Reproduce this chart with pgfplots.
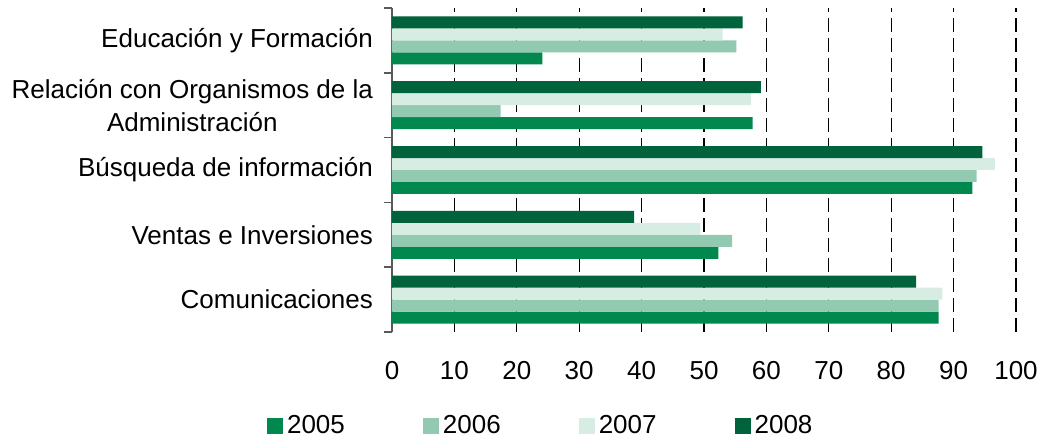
\documentclass[border=0pt]{standalone}
\usepackage{fontspec}
\setmainfont{Liberation Sans}
\usepackage{pgfplots}
\pgfplotsset{compat=1.18}
\definecolor{g05}{RGB}{0,136,78}
\definecolor{g06}{RGB}{146,202,177}
\definecolor{g07}{RGB}{215,236,227}
\definecolor{g08}{RGB}{0,99,59}
\begin{document}
\begin{tikzpicture}
\begin{axis}[
  scale only axis, width=312pt, height=162pt,
  xbar=0pt, bar width=0.185,
  xmin=0, xmax=100, ymin=-0.5, ymax=4.5,
  axis lines*=left,
  x axis line style={draw=none},
  y axis line style={draw=black!65, line width=0.8pt, -},
  xtick={0,10,...,100},
  xtick style={draw=none},
  xmajorgrids,
  grid style={black, line width=0.6pt, dash pattern=on 7pt off 3pt},
  ytick={-0.5,0.5,...,4.5}, yticklabels={},
  ytick style={draw=black!65, line width=0.8pt},
  tick align=outside, major tick length=4pt,
  extra y ticks={0,1,2,3,4},
  extra y tick labels={Comunicaciones, Ventas e Inversiones, B\'usqueda de informaci\'on, {Relaci\'on con Organismos de la\\Administraci\'on}, Educaci\'on y Formaci\'on},
  extra y tick style={ytick style={draw=none}, major tick length=0pt},
  /pgf/number format/assume math mode=true,
  tick label style={font=\fontsize{13}{16.5}\selectfont},
  yticklabel style={align=center, xshift=-6pt},
  xticklabel style={yshift=-7pt},
  legend columns=4,
  legend style={at={(0.24,-0.29)}, anchor=center, draw=none,
    font=\fontsize{13}{14}\selectfont,
    /tikz/every even column/.append style={column sep=37pt}},
  legend image code/.code={\fill[#1, draw=none] (0pt,-4pt) rectangle (8pt,4pt);},
]
\addplot[fill=g05, draw=none] coordinates {(87.6,0) (52.3,1) (93.0,2) (57.8,3) (24.1,4)};
\addplot[fill=g06, draw=none] coordinates {(87.6,0) (54.5,1) (93.7,2) (17.4,3) (55.2,4)};
\addplot[fill=g07, draw=none] coordinates {(88.2,0) (49.4,1) (96.6,2) (57.5,3) (53.0,4)};
\addplot[fill=g08, draw=none] coordinates {(84.0,0) (38.8,1) (94.6,2) (59.1,3) (56.2,4)};
\legend{2005,2006,2007,2008}
\end{axis}
\pgfresetboundingbox
\path ([xshift=-196pt,yshift=-52.5pt]current axis.south west) rectangle ([xshift=13pt,yshift=4pt]current axis.north east);
\end{tikzpicture}
\end{document}
